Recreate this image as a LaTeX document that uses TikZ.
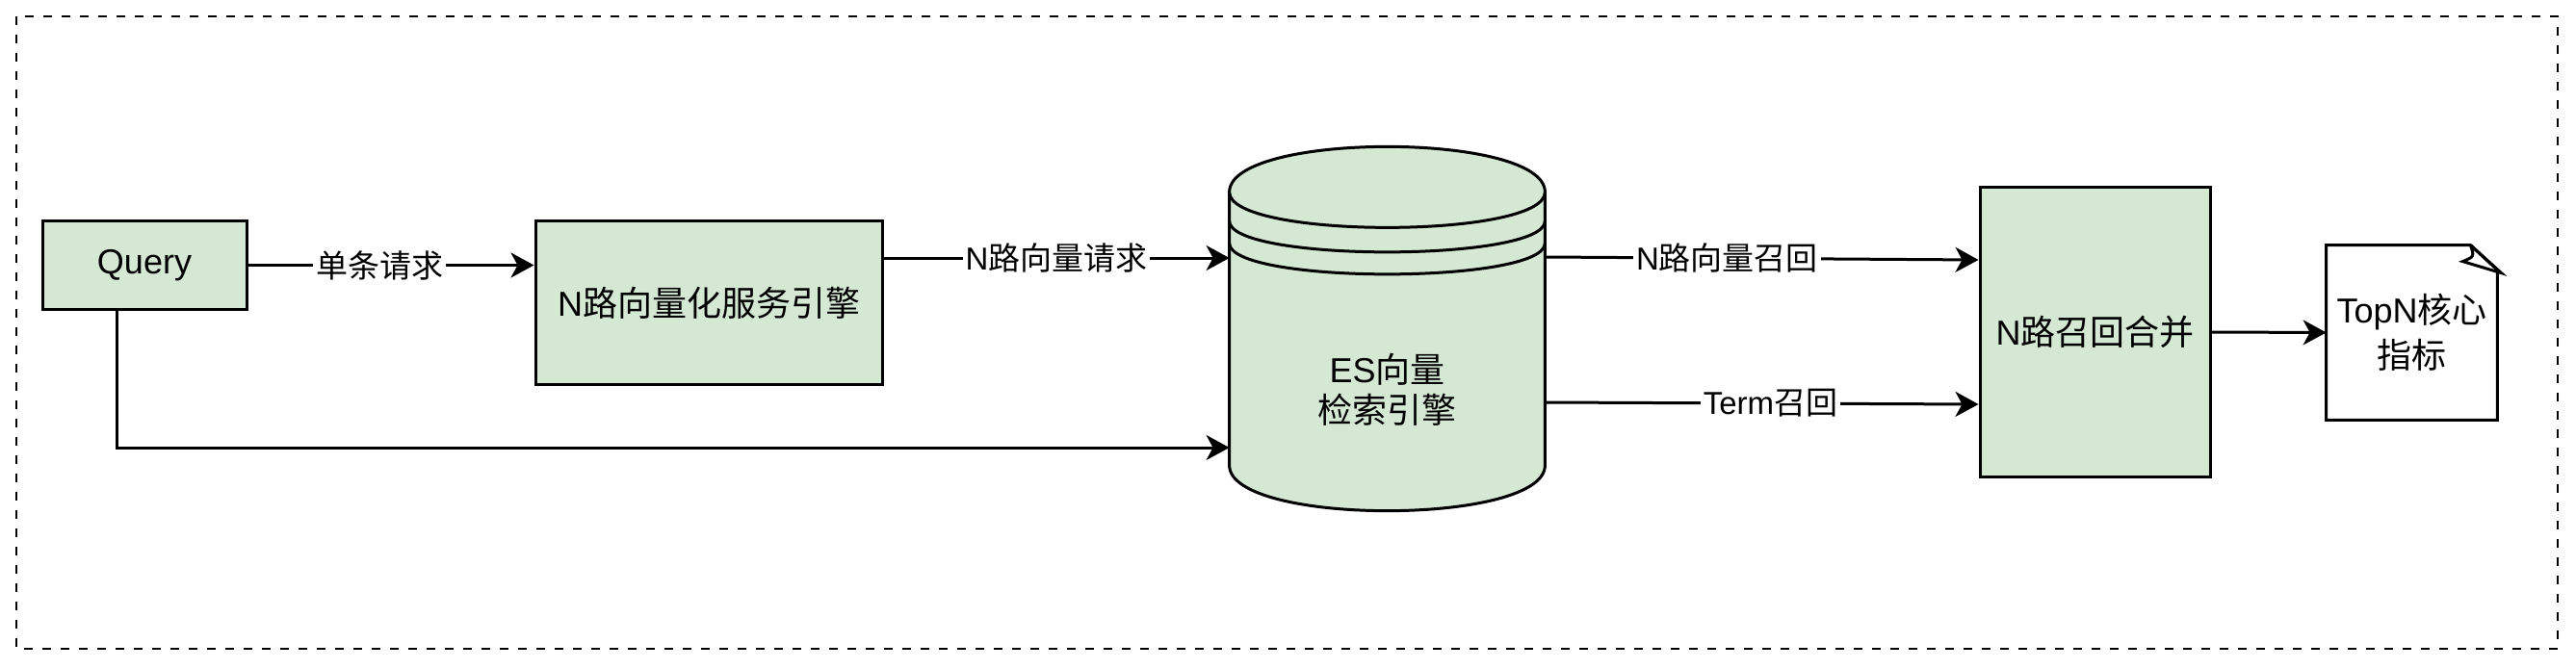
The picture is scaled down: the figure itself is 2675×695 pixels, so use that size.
\documentclass[tikz,border=0pt]{standalone}
\usepackage{fontspec}
\setmainfont{Liberation Sans}
\newfontfamily\cjk{Noto Sans CJK SC}
\usetikzlibrary{arrows.meta,calc}
\definecolor{gfill}{HTML}{D5E8D4}
\begin{document}
\begin{tikzpicture}[x=0.5pt,y=-0.5pt,
  box/.style={draw,fill=gfill,line width=1.5pt,font=\fontsize{18}{21}\selectfont,align=center,inner sep=0pt},
  ghost/.style={draw=none,inner sep=0pt},
  txt/.style={font=\fontsize{18}{21}\selectfont,align=center,inner sep=0pt},
  conn/.style={line width=1.5pt,-{Stealth[length=12pt,width=13pt,inset=3.5pt]}},
  elab/.style={fill=white,inner sep=1.5pt,font=\fontsize{16.5}{19}\selectfont},
  shp/.style={line width=1.5pt},
]
\useasboundingbox (0,0) rectangle (2675,695);
\draw[dash pattern=on 4.5pt off 5pt, line width=1.3pt] (17,17) rectangle (2656,674);

% nodes
\node[box,minimum width=106pt,minimum height=45.5pt] (query) at (150,275.5) {Query};
\node[box,minimum width=180pt,minimum height=84.5pt] (nsvc) at (736,314.5) {N{\cjk 路向量化服务引擎}};

% cylinder
\node[ghost,minimum width=163.5pt,minimum height=141.5pt] (es) at (1440.5,341.5) {};
\path[shp,draw,fill=gfill] (es.north west) .. controls +(0,-63) and +(0,-63) .. (es.north east)
  -- (es.south east) .. controls +(0,63) and +(0,63) .. (es.south west) -- cycle;
\draw[shp] (es.north west) .. controls +(0,49) and +(0,49) .. (es.north east);
\draw[shp] ($(es.north west)+(0,30)$) .. controls +(0,43) and +(0,43) .. ($(es.north east)+(0,30)$);
\draw[shp] ($(es.north west)+(0,53)$) .. controls +(0,43) and +(0,43) .. ($(es.north east)+(0,53)$);
\node[txt] (estext) at (1440.5,405) {ES{\cjk 向量}\\{\cjk 检索引擎}};

\node[box,minimum width=119.5pt,minimum height=150pt] (merge) at (2175.5,345) {N{\cjk 路召回合并}};

% document
\node[ghost,minimum width=88.5pt,minimum height=90.5pt] (doc) at (2504.5,345.5) {};
\draw[shp,line join=miter] (doc.north west) -- ($(doc.north east)+(-28,0)$) -- ($(doc.north east)+(0,26)$)
  -- (doc.south east) -- (doc.south west) -- cycle;
\draw[shp,line join=miter] ($(doc.north east)+(-28,0)$) .. controls +(4,12) .. ($(doc.north east)+(-36,17)$)
  -- ($(doc.north east)+(4,29)$) -- ($(doc.north east)+(-28,0)$);
\node[txt,font=\fontsize{18}{23.5}\selectfont] (doctext) at (doc.center) {TopN{\cjk 核心}\\{\cjk 指标}};

% helper coordinates
\coordinate (y268) at (0,268);
\coordinate (y267) at (0,267);
\coordinate (y270) at (0,270);
\coordinate (y418) at (0,418);
\coordinate (y420) at (0,420);
\coordinate (qturn) at (121,465);

% connectors
\draw[conn] (query.east) -- node[elab,pos=0.46]{{\cjk 单条请求}} (nsvc.west |- query.east);
\draw[conn] (nsvc.east |- y268) -- node[elab]{N{\cjk 路向量请求}} (es.west |- y268);
\draw[conn] (query.south -| qturn) -- (qturn) -- (es.west |- qturn);
\draw[conn] (es.east |- y267) -- node[elab,pos=0.42]{N{\cjk 路向量召回}} (merge.west |- y270);
\draw[conn] (es.east |- y418) -- node[elab,pos=0.52]{Term{\cjk 召回}} (merge.west |- y420);
\draw[conn] (merge.east) -- (doc.west);
\end{tikzpicture}
\end{document}
